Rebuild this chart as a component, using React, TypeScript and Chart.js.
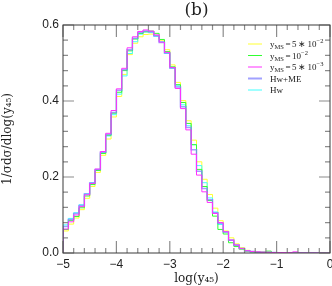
import React, { useEffect, useRef } from "react";
import { Chart, registerables } from "chart.js";

Chart.register(...registerables);

// ---- data (histogram bins of width 0.1 from log(y45) = -5 to 0) ----
const BIN_START = -5;
const BIN_WIDTH = 0.1;

const yms5e2 = [
  0.058, 0.076, 0.092, 0.114, 0.144, 0.175, 0.212, 0.257, 0.300, 0.358,
  0.412, 0.470, 0.522, 0.552, 0.569, 0.575, 0.576, 0.572, 0.560, 0.535,
  0.495, 0.449, 0.401, 0.348, 0.297, 0.240, 0.194, 0.154, 0.118, 0.085,
  0.058, 0.040, 0.024, 0.014, 0.007, 0.004, 0.003, 0.002, 0.001, 0.001,
  0.001, 0, 0, 0, 0, 0, 0, 0, 0, 0,
];
const yms1e2 = [
  0.062, 0.086, 0.096, 0.119, 0.150, 0.180, 0.217, 0.262, 0.310, 0.368,
  0.423, 0.480, 0.532, 0.563, 0.578, 0.582, 0.584, 0.578, 0.562, 0.530,
  0.490, 0.443, 0.396, 0.341, 0.285, 0.220, 0.175, 0.138, 0.097, 0.062,
  0.050, 0.027, 0.017, 0.010, 0.005, 0.003, 0.002, 0.002, 0.005, 0.001,
  0.001, 0, 0, 0, 0, 0, 0, 0, 0, 0,
];
const yms5e3 = [
  0.063, 0.082, 0.100, 0.122, 0.153, 0.183, 0.221, 0.267, 0.315, 0.375,
  0.432, 0.486, 0.540, 0.569, 0.583, 0.587, 0.584, 0.574, 0.555, 0.528,
  0.488, 0.433, 0.380, 0.324, 0.260, 0.205, 0.161, 0.133, 0.104, 0.080,
  0.056, 0.034, 0.021, 0.012, 0.006, 0.004, 0.003, 0.002, 0.002, 0.001,
  0.001, 0.001, 0.001, 0.003, 0, 0, 0, 0, 0, 0,
];
const hwME = [
  0.070, 0.088, 0.104, 0.125, 0.155, 0.184, 0.220, 0.265, 0.312, 0.370,
  0.428, 0.482, 0.535, 0.565, 0.580, 0.584, 0.582, 0.572, 0.554, 0.526,
  0.487, 0.437, 0.385, 0.330, 0.272, 0.215, 0.170, 0.140, 0.106, 0.078,
  0.055, 0.034, 0.021, 0.012, 0.006, 0.004, 0.002, 0.002, 0.001, 0.001,
  0, 0, 0, 0, 0, 0, 0, 0, 0, 0,
];
const hw = [
  0.074, 0.091, 0.106, 0.127, 0.156, 0.185, 0.219, 0.263, 0.308, 0.364,
  0.418, 0.466, 0.525, 0.556, 0.576, 0.582, 0.580, 0.570, 0.556, 0.525,
  0.486, 0.440, 0.390, 0.335, 0.285, 0.230, 0.185, 0.145, 0.108, 0.075,
  0.055, 0.033, 0.020, 0.012, 0.006, 0.003, 0.002, 0.001, 0, 0,
  0, 0, 0, 0, 0, 0, 0, 0, 0, 0,
];

const X_TICKS = [-5, -4, -3, -2, -1, 0];
const Y_TICKS = [0, 0.2, 0.4, 0.6];
const X_MINOR_STEP = 0.2;
const Y_MINOR_STEP = 0.04;

type Part = { t: string; k?: "sub" | "sup"; pad?: number };

const SERIES: {
  name: string;
  parts: Part[];
  values: number[];
  color: string;
  width: number;
  order: number;
}[] = [
  {
    name: "yMS=5*10^-2",
    parts: [{ t: "y" }, { t: "MS", k: "sub" }, { t: "=", pad: 1.5 }, { t: "5", pad: 1.5 }, { t: "∗", pad: 1.5 }, { t: "10", pad: 1.5 }, { t: "−2", k: "sup" }],
    values: yms5e2,
    color: "#ffff30",
    width: 1,
    order: 4,
  },
  {
    name: "yMS=10^-2",
    parts: [{ t: "y" }, { t: "MS", k: "sub" }, { t: "=", pad: 1.5 }, { t: "10", pad: 1.5 }, { t: "−2", k: "sup" }],
    values: yms1e2,
    color: "#30ff30",
    width: 1,
    order: 2,
  },
  {
    name: "yMS=5*10^-3",
    parts: [{ t: "y" }, { t: "MS", k: "sub" }, { t: "=", pad: 1.5 }, { t: "5", pad: 1.5 }, { t: "∗", pad: 1.5 }, { t: "10", pad: 1.5 }, { t: "−3", k: "sup" }],
    values: yms5e3,
    color: "#ff30ff",
    width: 1,
    order: 0,
  },
  {
    name: "Hw+ME",
    parts: [{ t: "Hw+ME" }],
    values: hwME,
    color: "rgba(130,130,255,0.75)",
    width: 1.5,
    order: 1,
  },
  {
    name: "Hw",
    parts: [{ t: "Hw" }],
    values: hw,
    color: "#40ffff",
    width: 1,
    order: 3,
  },
];

function histPoints(values: number[]) {
  const pts: { x: number; y: number }[] = [{ x: BIN_START, y: 0 }];
  values.forEach((v, i) => pts.push({ x: BIN_START + i * BIN_WIDTH, y: v }));
  pts.push({ x: BIN_START + values.length * BIN_WIDTH, y: values[values.length - 1] });
  return pts;
}

const fmtMinus = (s: string) => s.replace("-", "\u2212");

const framePlugin = {
  id: "frameTicksLegend",
  afterDatasetsDraw(chart: any) {
    const { ctx, chartArea: a, scales } = chart;
    const xs = scales.x;
    const ys = scales.y;
    ctx.save();
    // inward ticks
    ctx.strokeStyle = "#8c8c8c";
    ctx.lineWidth = 1.2;
    ctx.beginPath();
    const nx = Math.round((xs.max - xs.min) / X_MINOR_STEP);
    for (let k = 0; k <= nx; k++) {
      const v = xs.min + k * X_MINOR_STEP;
      const px = xs.getPixelForValue(v);
      const len = k % 5 === 0 ? 12 : 5;
      ctx.moveTo(px, a.bottom);
      ctx.lineTo(px, a.bottom - len);
      ctx.moveTo(px, a.top);
      ctx.lineTo(px, a.top + len);
    }
    const ny = Math.round((ys.max - ys.min) / Y_MINOR_STEP);
    for (let k = 0; k <= ny; k++) {
      const v = ys.min + k * Y_MINOR_STEP;
      const py = ys.getPixelForValue(v);
      const len = k % 5 === 0 ? 11 : 5;
      ctx.moveTo(a.left, py);
      ctx.lineTo(a.left + len, py);
      ctx.moveTo(a.right, py);
      ctx.lineTo(a.right - len, py);
    }
    ctx.stroke();
    // frame
    ctx.strokeStyle = "#3a3a3a";
    ctx.lineWidth = 1;
    ctx.strokeRect(a.left, a.top, a.right - a.left, a.bottom - a.top);

    // legend
    const lx0 = a.right - 82;
    const lx1 = lx0 + 14;
    const tx = lx0 + 22;
    const rowTop = a.top + 19;
    const rowGap = 11.5;
    const base = 9;
    const small = 6.5;
    ctx.textBaseline = "alphabetic";
    ctx.textAlign = "left";
    SERIES.forEach((s, i) => {
      const y = rowTop + i * rowGap;
      ctx.strokeStyle = s.color;
      ctx.lineWidth = s.width === 1 ? 1 : 2;
      ctx.beginPath();
      ctx.moveTo(lx0, y);
      ctx.lineTo(lx1, y);
      ctx.stroke();
      let x = tx;
      const baseline = y + 3.3;
      ctx.fillStyle = "#222";
      s.parts.forEach((p) => {
        x += p.pad || 0;
        const size = p.k ? small : base;
        ctx.font = `${size}px 'Liberation Serif', 'Times New Roman', serif`;
        const dy = p.k === "sub" ? 2 : p.k === "sup" ? -4 : 0;
        ctx.fillText(p.t, x, baseline + dy);
        x += ctx.measureText(p.t).width;
      });
    });
    ctx.restore();
  },
};

export default function App() {
  const ref = useRef<HTMLCanvasElement>(null);
  useEffect(() => {
    const canvas = ref.current;
    if (!canvas) return;
    const chart = new Chart(canvas, {
      type: "line",
      data: {
        datasets: SERIES.map((s) => ({
          label: s.name,
          data: histPoints(s.values),
          borderColor: s.color,
          borderWidth: s.width,
          pointRadius: 0,
          stepped: true,
          fill: false,
          order: s.order,
        })),
      },
      options: {
        animation: false,
        responsive: false,
        maintainAspectRatio: false,
        layout: { padding: { left: 0, right: 2, top: 0, bottom: 0 } },
        plugins: {
          legend: { display: false },
          tooltip: { enabled: false },
          title: {
            display: true,
            text: "(b)",
            fullSize: false,
            color: "#222",
            font: { family: "'DejaVu Serif', serif", size: 17, weight: "normal", lineHeight: 1.2 },
            padding: { top: 0, bottom: 4.6 },
          },
        },
        scales: {
          x: {
            type: "linear",
            min: -5,
            max: 0,
            grid: { display: false, drawTicks: false },
            border: { display: false },
            afterBuildTicks: (s: any) => {
              s.ticks = X_TICKS.map((v) => ({ value: v }));
            },
            ticks: {
              callback: (v: any) => fmtMinus(String(v)),
              color: "#222",
              font: { family: "'Liberation Sans', Arial, sans-serif", size: 12 },
              padding: 4,
              maxRotation: 0,
              autoSkip: false,
            },
            title: {
              display: true,
              text: "log(y₄₅)",
              color: "#222",
              font: { family: "'DejaVu Serif', serif", size: 12, lineHeight: 1 },
              padding: { top: 0, bottom: 1 },
            },
            afterFit: (s: any) => {
              s.height = 33;
              s.paddingLeft = 0;
              s.paddingRight = 0;
            },
          },
          y: {
            type: "linear",
            min: 0,
            max: 0.6,
            grid: { display: false, drawTicks: false },
            border: { display: false },
            afterBuildTicks: (s: any) => {
              s.ticks = Y_TICKS.map((v) => ({ value: v }));
            },
            ticks: {
              callback: (v: any) => Number(v).toFixed(1),
              color: "#222",
              font: { family: "'Liberation Sans', Arial, sans-serif", size: 12 },
              padding: 4,
            },
            title: {
              display: true,
              text: "1/σdσ/dlog(y₄₅)",
              color: "#222",
              font: { family: "'DejaVu Serif', serif", size: 12, lineHeight: 1 },
              padding: { top: 2, bottom: 0 },
            },
            afterFit: (s: any) => {
              s.width = 63;
              s.paddingTop = 0;
              s.paddingBottom = 0;
            },
          },
        },
      },
      plugins: [framePlugin],
    });
    return () => chart.destroy();
  }, []);

  return (
    <div style={{ position: "fixed", left: 0, top: 0, width: 332, height: 286, background: "#fff" }}>
      <canvas ref={ref} width={332} height={286} style={{ width: 332, height: 286, display: "block" }} />
    </div>
  );
}
